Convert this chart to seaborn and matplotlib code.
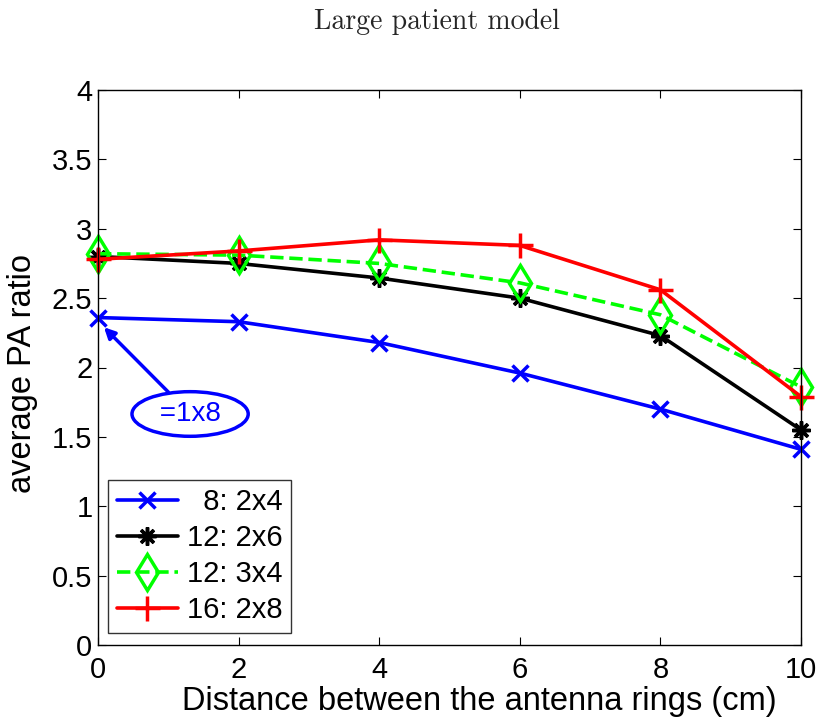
import matplotlib
matplotlib.use("Agg")
import matplotlib.pyplot as plt
import seaborn as sns
import numpy as np
import pandas as pd

distance = [0, 2, 4, 6, 8, 10]
s_2x4 = [2.36, 2.33, 2.18, 1.96, 1.70, 1.41]
s_2x6 = [2.80, 2.75, 2.645, 2.50, 2.23, 1.55]
s_3x4 = [2.82, 2.81, 2.75, 2.61, 2.38, 1.86]
s_2x8 = [2.78, 2.84, 2.92, 2.88, 2.56, 1.79]
labels = ["  8: 2x4", "12: 2x6", "12: 3x4", "16: 2x8"]

sns.set_theme(style="white")
plt.rcParams['font.family'] = ['Liberation Sans', 'DejaVu Sans']

fig = plt.figure(figsize=(8.22, 7.19), dpi=100)
ax = fig.add_axes([98/822, 1-645/719, (801-98)/822, (645-90)/719])

styles = [
    dict(color="#0000ff", marker="x", ms=12, mew=2.5, ls="-", mfc="#0000ff"),
    dict(color="#000000", marker=(8, 2, 0), ms=13, mew=2.5, ls="-", mfc="#000000"),
    dict(color="#00ff00", marker="d", ms=18, mew=2.5, ls="--", mfc="none"),
    dict(color="#ff0000", marker="+", ms=18, mew=2.5, ls="-", mfc="#ff0000"),
]
series = [s_2x4, s_2x6, s_3x4, s_2x8]
for vals, lab, st in zip(series, labels, styles):
    df = pd.DataFrame({"x": distance, "y": vals})
    sns.lineplot(data=df, x="x", y="y", ax=ax, label=lab, color=st["color"],
                 marker=st["marker"], markersize=st["ms"], markeredgewidth=st["mew"],
                 markerfacecolor=st["mfc"], markeredgecolor=st["color"],
                 linestyle=st["ls"], linewidth=2.6, clip_on=False,
                 dashes=(3, 2) if st["ls"] == "--" else None)

ax.set_xlim(0, 10)
ax.set_ylim(0, 4)
ax.set_xticks(np.arange(0, 11, 2))
ax.set_yticks(np.arange(0, 4.01, 0.5))
ax.set_yticklabels(["0", "0.5", "1", "1.5", "2", "2.5", "3", "3.5", "4"])
ax.tick_params(direction="in", length=6, width=0.8, labelsize=21, top=True, right=True,
               bottom=True, left=True, color="black", labelcolor="black", pad=4)
ax.tick_params(axis="x", pad=8)
for sp in ax.spines.values():
    sp.set_color("black")
    sp.set_linewidth(1.0)
ax.set_xlabel("Distance between the antenna rings (cm)", fontsize=23.5, color="black")
ax.set_ylabel("average PA ratio", fontsize=23.5, color="black")
ax.xaxis.set_label_coords(0.543, -0.074)
ax.yaxis.set_label_coords(-0.085, 0.49)

leg = ax.legend(loc="lower left", fontsize=21, frameon=True, fancybox=False,
                edgecolor="black", handlelength=2.1, borderpad=0.3, labelspacing=0.27,
                handletextpad=0.3, bbox_to_anchor=(0.014, 0.022), borderaxespad=0)
leg.get_frame().set_linewidth(1.0)
for t in leg.get_texts():
    t.set_color("black")

ax.annotate(" =1x8 ", xy=(0.085, 2.29), xytext=(1.31, 1.665), fontsize=20, color="#0000ff",
            ha="center", va="center",
            bbox=dict(boxstyle="ellipse,pad=0.1", fc="white", ec="#0000ff", lw=2.5),
            arrowprops=dict(arrowstyle="-|>", color="#0000ff", lw=2.5, mutation_scale=16,
                            shrinkA=0, shrinkB=0))

fig.text(437/822, 1-22/719, "Large patient model", fontsize=20, family="cmr10",
         ha="center", va="center")

fig.savefig("out.png", dpi=100)
